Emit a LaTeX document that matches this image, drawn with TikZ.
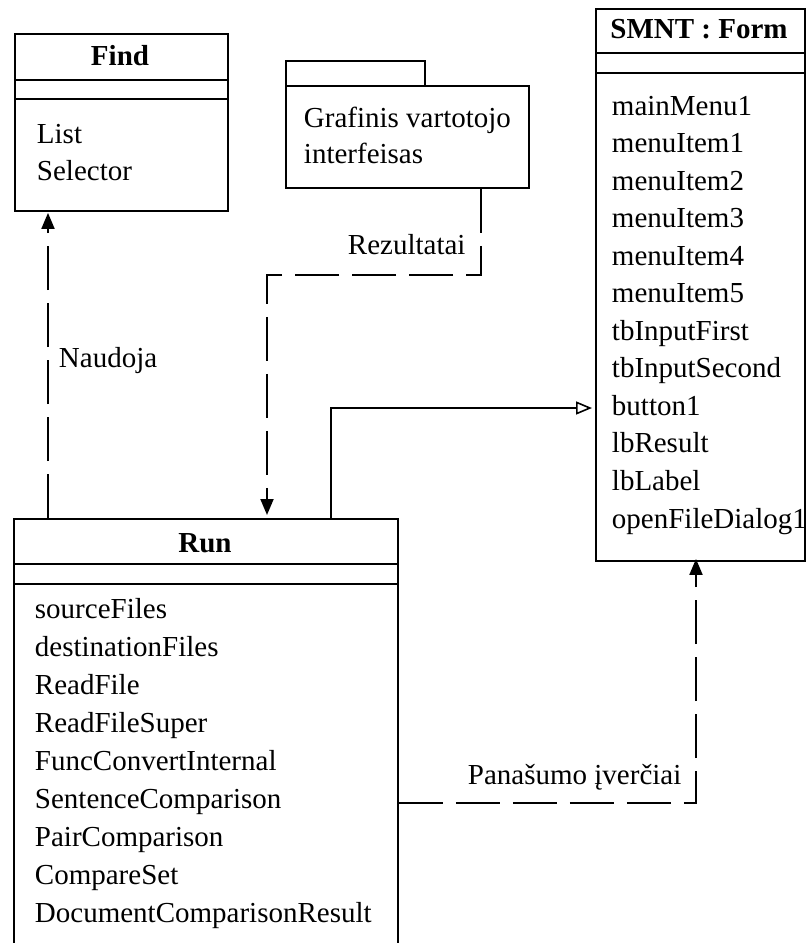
\documentclass[tikz,border=0pt]{standalone}
\usepackage{fontspec}
\setmainfont{Liberation Serif}
\usetikzlibrary{arrows.meta}
\begin{document}
\begin{tikzpicture}[x=1pt,y=-1pt,
  line width=1.9pt,
  classbox/.style={draw, inner sep=0pt, anchor=north west},
  attr/.style={anchor=base west, inner sep=0pt, font=\fontsize{29}{36}\selectfont},
  ctitle/.style={anchor=base, inner sep=0pt, font=\fontsize{29}{36}\selectfont\bfseries},
  lbl/.style={anchor=base west, inner sep=0pt, font=\fontsize{29}{36}\selectfont},
  dep/.style={dash pattern=on 44pt off 13pt, -{Triangle[length=16pt,width=13pt]}},
  gen/.style={-{Triangle[open,length=16pt,width=13pt,line width=1.6pt]}, shorten >=3pt},
]
\useasboundingbox (0,0) rectangle (808,943);

% Find
\node[classbox, minimum width=213pt, minimum height=177pt] (find) at (14,33) {};
\draw (find.west |- 0,80) -- (find.east |- 0,80);
\draw (find.west |- 0,99) -- (find.east |- 0,99);
\node[ctitle] (findt) at (120,65) {Find};
\node[attr] (find1) at (36,143) {List};
\node[attr] (find2) at (36,180) {Selector};

% Package
\node[classbox, minimum width=139pt, minimum height=25pt] (pkgtab) at (285,60) {};
\node[classbox, minimum width=243pt, minimum height=102pt] (pkg) at (285,85) {};
\node[attr] (pkg1) at (303,127) {Grafinis vartotojo};
\node[attr] (pkg2) at (303,163) {interfeisas};

% SMNT : Form
\node[classbox, minimum width=209pt, minimum height=552pt] (smnt) at (595,8) {};
\draw (smnt.west |- 0,53) -- (smnt.east |- 0,53);
\draw (smnt.west |- 0,73) -- (smnt.east |- 0,73);
\node[ctitle] (smntt) at (699,38) {SMNT : Form};
\foreach \t [count=\i from 0] in {mainMenu1,menuItem1,menuItem2,menuItem3,menuItem4,menuItem5,tbInputFirst,tbInputSecond,button1,lbResult,lbLabel,openFileDialog1}
  \node[attr] (smnt-\i) at (611,115+37.55*\i) {\t};

% Run
\node[classbox, minimum width=384pt, minimum height=427pt] (run) at (13,518) {};
\draw (run.west |- 0,564) -- (run.east |- 0,564);
\draw (run.west |- 0,584) -- (run.east |- 0,584);
\node[ctitle] (runt) at (205,552) {Run};
\foreach \t [count=\i from 0] in {sourceFiles,destinationFiles,ReadFile,ReadFileSuper,FuncConvertInternal,SentenceComparison,PairComparison,CompareSet,DocumentComparisonResult}
  \node[attr] (run-\i) at (34,618+38*\i) {\t};

% connector guides
\coordinate (naudx) at (48,0);
\coordinate (rezx) at (481,0);
\coordinate (rezbend) at (481,275);
\coordinate (rezdown) at (267,275);
\coordinate (genx) at (331,0);
\coordinate (genbend) at (331,408);
\coordinate (panx) at (696,0);
\coordinate (panbend) at (696,803);

% Naudoja
\draw[dep, shorten >=1pt] (run.north -| naudx) -- (find.south -| naudx);
\node[lbl] (naud) at (58,367) {Naudoja};

% Rezultatai
\draw[dep, shorten >=3pt] (pkg.south -| rezx) -- (rezbend) -- (rezdown) -- (run.north -| rezdown);
\node[lbl] (rez) at (347,254) {Rezultatai};

% generalization Run -> SMNT
\draw[gen] (run.north -| genx) -- (genbend) -- (smnt.west |- genbend);

% Panasumo iverciai
\draw[dep, shorten >=-3pt] (run.east |- panbend) -- (panbend) -- (smnt.south -| panx);
\node[lbl] (pan) at (467,784) {Panašumo įverčiai};
\end{tikzpicture}
\end{document}
